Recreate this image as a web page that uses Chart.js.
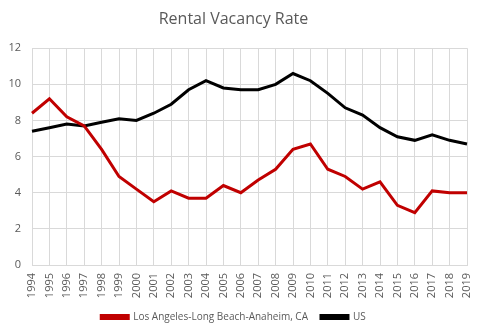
<!DOCTYPE html>
<html lang="en">
<head>
  <meta charset="UTF-8">
  <title>Rental Vacancy Rate</title>
  <script src="https://cdn.jsdelivr.net/npm/chart.js"></script>
  <style>
    body {
      margin: 0;
      padding: 0;
      background: #fff;
    }
    .wrap {
      width: 480px;
      height: 332px;
    }
  </style>
</head>
<body>
  <div class="wrap">
    <canvas id="vacancyChart" width="480" height="332"></canvas>
  </div>
  <script>
    const years = ['1994', '1995', '1996', '1997', '1998', '1999', '2000', '2001', '2002', '2003', '2004', '2005', '2006',
      '2007', '2008', '2009', '2010', '2011', '2012', '2013', '2014', '2015', '2016', '2017', '2018', '2019'];

    const laRate = [8.4, 9.2, 8.2, 7.7, 6.4, 4.9, 4.2, 3.5, 4.1, 3.7, 3.7, 4.4, 4.0,
      4.7, 5.3, 6.4, 6.7, 5.3, 4.9, 4.2, 4.6, 3.3, 2.9, 4.1, 4.0, 4.0];

    const usRate = [7.4, 7.6, 7.8, 7.7, 7.9, 8.1, 8.0, 8.4, 8.9, 9.7, 10.2, 9.8, 9.7,
      9.7, 10.0, 10.6, 10.2, 9.5, 8.7, 8.3, 7.6, 7.1, 6.9, 7.2, 6.9, 6.7];

    const textGray = '#595959';
    const gridGray = '#d9d9d9';

    new Chart(document.getElementById('vacancyChart'), {
      type: 'line',
      data: {
        labels: years,
        datasets: [{
          label: 'Los Angeles-Long Beach-Anaheim, CA',
          data: laRate,
          borderColor: '#c00000',
          backgroundColor: '#c00000',
          borderWidth: 3,
          pointRadius: 0,
          tension: 0
        }, {
          label: 'US',
          data: usRate,
          borderColor: '#000000',
          backgroundColor: '#000000',
          borderWidth: 3,
          pointRadius: 0,
          tension: 0
        }]
      },
      options: {
        responsive: false,
        animation: false,
        layout: {
          padding: { left: 0, right: 13, top: 4, bottom: 0 }
        },
        plugins: {
          title: {
            display: true,
            text: 'Rental Vacancy Rate',
            color: textGray,
            font: { family: 'Open Sans', size: 16, weight: 'normal' },
            padding: { top: 6, bottom: 19 }
          },
          legend: {
            position: 'bottom',
            labels: {
              color: textGray,
              font: { family: 'Open Sans', size: 10, lineHeight: 1 },
              boxWidth: 27,
              boxHeight: 3,
              padding: 13
            }
          },
          tooltip: { enabled: false }
        },
        scales: {
          x: {
            offset: false,
            grid: { color: gridGray, drawTicks: false },
            border: { color: gridGray },
            ticks: {
              color: textGray,
              font: { family: 'Open Sans', size: 11 },
              minRotation: 90,
              maxRotation: 90,
              autoSkip: false,
              padding: 8
            },
            // fixed label band, no extra side margins from the rotated years
            afterFit(scale) {
              scale.height = 34;
              scale.paddingLeft = 0;
              scale.paddingRight = 0;
            }
          },
          y: {
            min: 0,
            max: 12,
            grid: { color: gridGray, drawTicks: false },
            border: { display: false },
            ticks: {
              stepSize: 2,
              color: textGray,
              font: { family: 'Open Sans', size: 11 },
              padding: 11
            },
            afterFit(scale) {
              scale.width = 32;
            }
          }
        }
      }
    });
  </script>
</body>
</html>
